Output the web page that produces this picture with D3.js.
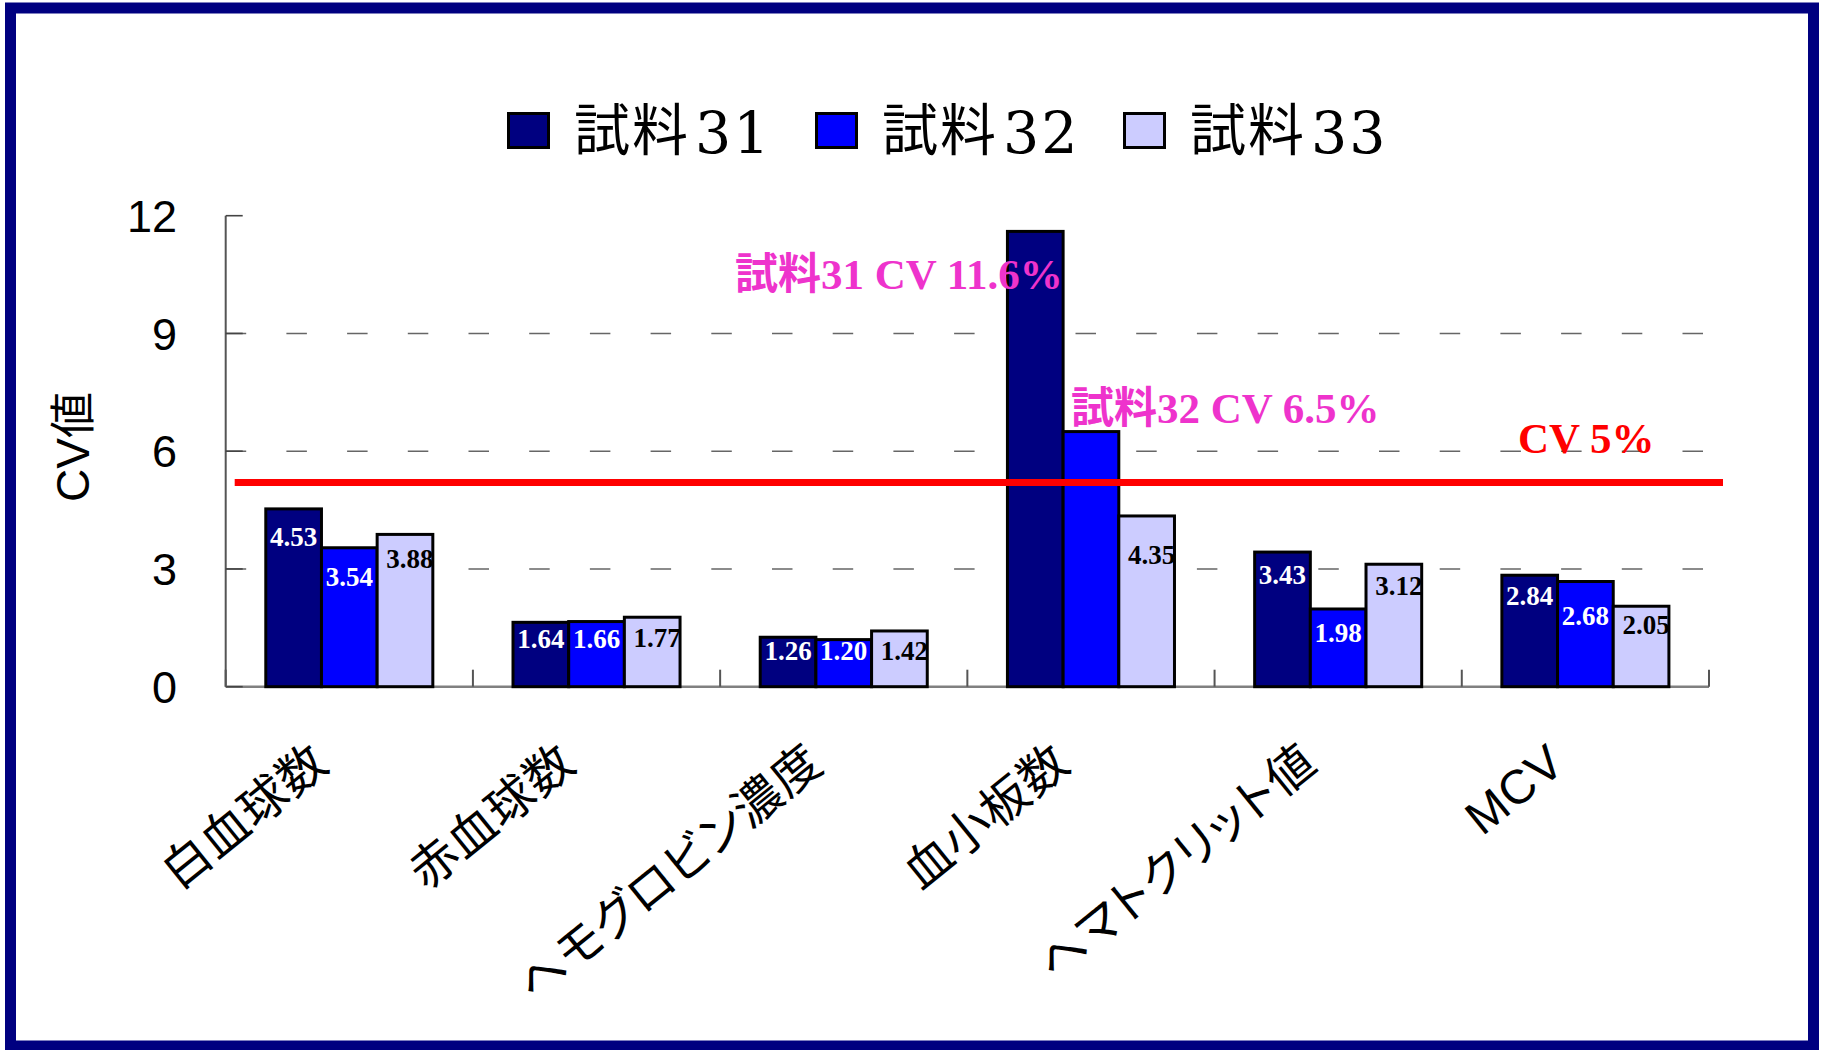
<!DOCTYPE html>
<html>
<head>
<meta charset="utf-8">
<script src="https://cdn.jsdelivr.net/npm/d3@7"></script>
<style>
body{margin:0;background:#fff;}
svg{display:block;}
</style>
</head>
<body>
<svg id="svg" width="1823" height="1050"></svg>
<script>
// categories / series
var categories = ["白血球数","赤血球数","ヘモグロビン濃度","血小板数","ヘマトクリット値","MCV"];
var seriesNames = ["試料31","試料32","試料33"];
var sample31 = [4.53,1.64,1.26,11.6,3.43,2.84];
var sample32 = [3.54,1.66,1.20,6.5,1.98,2.68];
var sample33 = [3.88,1.77,1.42,4.35,3.12,2.05];
var yTicks = [0,3,6,9,12];
var gridTicks = [3,6,9];
var cvLimit = 5.2; // red line, drawn a bit above 5 in the original
// labels of these bars are replaced by the pink notes
var hiddenLabels = ["3-0","3-1"];
var notes = [
	{text:"試料31 CV 11.6%", y:10.13, color:"#EE33CC"},
	{text:"試料32 CV 6.5%", y:6.72, color:"#EE33CC"},
	{text:"CV 5%", y:5.95, color:"#FF0000"}
];

// layout only
var W = 1823, H = 1050;
var plot = {left:225.7, right:1709, top:215.7, bottom:686.7};
var noteX = [735, 1071, 1518];
var colors = ["#000080","#0000FF","#CCCCFF"];
var labelColors = ["#fff","#fff","#000"];
var labelDy = [
	[37,38,34],
	[26,26,30],
	[23,20.6,29],
	[0,0,48],
	[32,33,31],
	[30,43,28]
];

var svg = d3.select("#svg");
var seriesData = [sample31,sample32,sample33];

var x = d3.scaleBand().domain(categories).range([plot.left,plot.right]).padding(0);
var xs = d3.scaleBand().domain(d3.range(3)).range([0,x.bandwidth()]).paddingInner(0).paddingOuter(0.72);
var y = d3.scaleLinear().domain([0,12]).range([plot.bottom,plot.top]);

// frame
svg.append("rect").attr("x",10.5).attr("y",8).attr("width",1803).attr("height",1038)
	.attr("fill","#fff").attr("stroke","#000080").attr("stroke-width",11);

// dashed grid
svg.append("g").selectAll("line").data(gridTicks).enter().append("line")
	.attr("x1",plot.left).attr("x2",plot.right)
	.attr("y1",function(d){return y(d);}).attr("y2",function(d){return y(d);})
	.attr("stroke","#666").attr("stroke-width",1.6)
	.attr("stroke-dasharray","20.5,40.2");

// axes
var axisG = svg.append("g");
axisG.append("line").attr("x1",plot.left).attr("x2",plot.left).attr("y1",y(0)).attr("y2",y(12))
	.attr("stroke","#555").attr("stroke-width",2);
axisG.append("line").attr("x1",plot.left).attr("x2",plot.right).attr("y1",y(0)).attr("y2",y(0))
	.attr("stroke","#808080").attr("stroke-width",2.5);
axisG.selectAll(".yt").data(yTicks).enter().append("line")
	.attr("x1",plot.left).attr("x2",plot.left+17)
	.attr("y1",function(d){return y(d);}).attr("y2",function(d){return y(d);})
	.attr("stroke","#444").attr("stroke-width",1.6);
var xTickPos = categories.map(function(c){return x(c);}).concat([plot.right]);
axisG.selectAll(".xt").data(xTickPos).enter().append("line")
	.attr("x1",function(d){return d;}).attr("x2",function(d){return d;})
	.attr("y1",y(0)).attr("y2",y(0)-17)
	.attr("stroke","#555").attr("stroke-width",2);

axisG.selectAll(".yl").data(yTicks).enter().append("text")
	.attr("x",177).attr("y",function(d){return y(d);})
	.attr("dy","0.36em").attr("text-anchor","end")
	.style("font-family","'Liberation Sans', Arial, sans-serif").style("font-size","45px")
	.text(function(d){return d;});

svg.append("text")
	.attr("transform","translate(89,447) rotate(-90)")
	.attr("text-anchor","middle")
	.style("font-family","'Liberation Sans','Noto Sans CJK JP', sans-serif").style("font-size","46px")
	.text("CV値");

// proportional kana like the original
axisG.selectAll(".xl").data(categories).enter().append("text")
	.attr("transform",function(d){return "translate("+(x(d)+x.bandwidth()/2-18)+","+(y(0)+81)+") rotate(-39)";})
	.attr("text-anchor","end")
	.style("font-family","'Liberation Sans','Noto Sans CJK JP', sans-serif").style("font-size","48px")
	.style("font-feature-settings","'palt' 1")
	.style("letter-spacing","1px")
	.text(function(d){return d;});

// bars
var bars = [];
categories.forEach(function(c,ci){
	seriesData.forEach(function(s,si){
		bars.push({cat:c, ci:ci, si:si, v:s[ci]});
	});
});

var defs = svg.append("defs");
defs.selectAll("clipPath").data(bars).enter().append("clipPath")
	.attr("id",function(d){return "clip"+d.ci+"-"+d.si;})
	.append("rect")
	.attr("x",function(d){return x(d.cat)+xs(d.si);})
	.attr("y",function(d){return y(d.v);})
	.attr("width",xs.bandwidth())
	.attr("height",function(d){return y(0)-y(d.v);});

svg.append("g").selectAll("rect").data(bars).enter().append("rect")
	.attr("x",function(d){return x(d.cat)+xs(d.si);})
	.attr("y",function(d){return y(d.v);})
	.attr("width",xs.bandwidth())
	.attr("height",function(d){return y(0)-y(d.v);})
	.attr("fill",function(d){return colors[d.si];})
	.attr("stroke","#000").attr("stroke-width",3);

// CV 5% line
svg.append("line").attr("x1",plot.left+9).attr("x2",plot.right+14)
	.attr("y1",y(cvLimit)).attr("y2",y(cvLimit))
	.attr("stroke","#FF0000").attr("stroke-width",7);

// value labels
svg.append("g").selectAll("text")
	.data(bars.filter(function(d){return hiddenLabels.indexOf(d.ci+"-"+d.si)<0;}))
	.enter().append("text")
	.attr("clip-path",function(d){return "url(#clip"+d.ci+"-"+d.si+")";})
	.attr("x",function(d){return x(d.cat)+xs(d.si)+xs.bandwidth()/2+(d.si==2?5:0);})
	.attr("y",function(d){return y(d.v)+labelDy[d.ci][d.si];})
	.attr("text-anchor","middle")
	.attr("fill",function(d){return labelColors[d.si];})
	.style("font-family","'Liberation Serif','Times New Roman', serif")
	.style("font-weight","bold").style("font-size","27px")
	.text(function(d){return d.v.toFixed(2);});

// notes
svg.append("g").selectAll("text").data(notes).enter().append("text")
	.attr("x",function(d,i){return noteX[i];})
	.attr("y",function(d){return y(d.y);})
	.attr("fill",function(d){return d.color;})
	.style("font-family","'Liberation Serif','Noto Sans CJK JP', serif")
	.style("font-weight","bold").style("font-size","43px")
	.text(function(d){return d.text;});

// legend
var legend = svg.append("g").selectAll("g").data(seriesNames).enter().append("g")
	.attr("transform",function(d,i){return "translate("+(507+i*308)+",112)";});
legend.append("rect").attr("x",1.5).attr("y",1.5).attr("width",40).attr("height",34)
	.attr("fill",function(d,i){return colors[i];})
	.attr("stroke","#000").attr("stroke-width",3);
var lt = legend.append("text").attr("x",67).attr("y",38);
lt.append("tspan")
	.style("font-family","'Noto Sans CJK JP', sans-serif").style("font-size","56px")
	.style("letter-spacing","2px")
	.text(function(d){return d.slice(0,2);});
lt.append("tspan").attr("dx",5).attr("dy",3)
	.style("font-family","'DejaVu Serif', serif").style("font-size","57px")
	.style("letter-spacing","2px")
	.text(function(d){return d.slice(2);});
</script>
</body>
</html>
